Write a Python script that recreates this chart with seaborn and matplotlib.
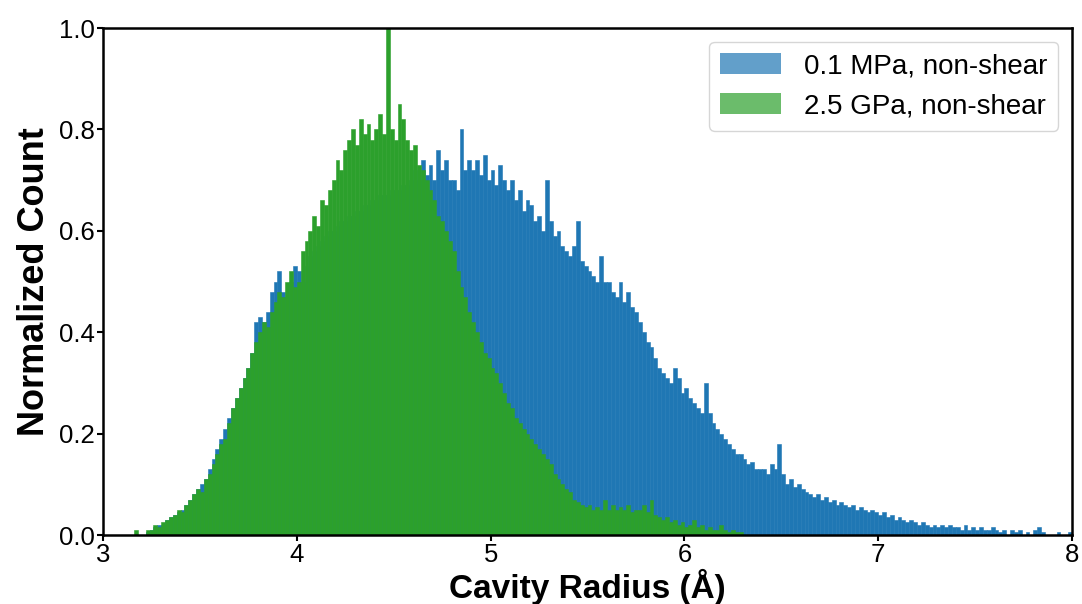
import numpy as np
import pandas as pd
import matplotlib
matplotlib.use("Agg")
import matplotlib.pyplot as plt
from matplotlib.patches import Patch
import seaborn as sns

# Histogram bin layout (Å)
BIN_WIDTH = 0.02
low_p_start = 3.20
high_p_start = 3.16

# Normalized counts per bin, 0.1 MPa non-shear (3.20 -> 8.00 Å)
low_p_counts = [
    0.0, 0.005, 0.01, 0.015, 0.02,
    0.02, 0.03, 0.035, 0.04, 0.045,
    0.05, 0.06, 0.07, 0.08, 0.09,
    0.10, 0.11, 0.13, 0.15, 0.17,
    0.19, 0.21, 0.23, 0.25, 0.27,
    0.29, 0.31, 0.33, 0.36, 0.42,
    0.43, 0.42, 0.44, 0.48, 0.50,
    0.52, 0.48, 0.47, 0.50, 0.53,
    0.52, 0.50, 0.53, 0.55, 0.56,
    0.57, 0.58, 0.59, 0.60, 0.60,
    0.61, 0.62, 0.62, 0.63, 0.63,
    0.64, 0.64, 0.65, 0.65, 0.66,
    0.66, 0.67, 0.67, 0.67, 0.68,
    0.68, 0.68, 0.69, 0.69, 0.70,
    0.72, 0.70, 0.74, 0.71, 0.73,
    0.70, 0.76, 0.72, 0.74, 0.70,
    0.70, 0.68, 0.80, 0.72, 0.74,
    0.72, 0.74, 0.71, 0.75, 0.70,
    0.72, 0.69, 0.73, 0.70, 0.68,
    0.70, 0.66, 0.68, 0.64, 0.66,
    0.65, 0.62, 0.63, 0.60, 0.70,
    0.62, 0.59, 0.60, 0.57, 0.56,
    0.55, 0.57, 0.62, 0.54, 0.53,
    0.52, 0.51, 0.50, 0.55, 0.50,
    0.50, 0.48, 0.47, 0.50, 0.46,
    0.48, 0.45, 0.44, 0.42, 0.40,
    0.38, 0.37, 0.35, 0.33, 0.32,
    0.31, 0.30, 0.33, 0.31, 0.28,
    0.29, 0.27, 0.26, 0.25, 0.24,
    0.30, 0.24, 0.22, 0.21, 0.20,
    0.19, 0.18, 0.17, 0.16, 0.16,
    0.15, 0.14, 0.145, 0.13, 0.13,
    0.13, 0.12, 0.14, 0.13, 0.18,
    0.12, 0.10, 0.11, 0.095, 0.10,
    0.09, 0.085, 0.08, 0.075, 0.08,
    0.07, 0.075, 0.065, 0.07, 0.06,
    0.065, 0.06, 0.055, 0.06, 0.05,
    0.055, 0.05, 0.045, 0.05, 0.045,
    0.04, 0.045, 0.035, 0.04, 0.03,
    0.035, 0.03, 0.025, 0.03, 0.025,
    0.02, 0.025, 0.02, 0.015, 0.02,
    0.015, 0.02, 0.015, 0.02, 0.015,
    0.015, 0.01, 0.02, 0.01, 0.015,
    0.01, 0.015, 0.01, 0.01, 0.015,
    0.01, 0.005, 0.01, 0.0, 0.01,
    0.005, 0.01, 0.0, 0.005, 0.0,
    0.01, 0.015, 0.005, 0.0, 0.0,
    0.0, 0.005, 0.0, 0.0, 0.005,
]

# Normalized counts per bin, 2.5 GPa non-shear (3.16 -> 6.30 Å)
high_p_counts = [
    0.01, 0.0, 0.0, 0.01, 0.01,
    0.02, 0.015, 0.025, 0.03, 0.035,
    0.04, 0.05, 0.045, 0.06, 0.07,
    0.08, 0.09, 0.085, 0.11, 0.12,
    0.14, 0.16, 0.18, 0.19, 0.22,
    0.25, 0.27, 0.29, 0.31, 0.33,
    0.36, 0.38, 0.40, 0.42, 0.41,
    0.44, 0.46, 0.48, 0.47, 0.50,
    0.52, 0.49, 0.50, 0.56, 0.58,
    0.60, 0.63, 0.61, 0.66, 0.65,
    0.68, 0.70, 0.74, 0.72, 0.76,
    0.78, 0.80, 0.77, 0.82, 0.79,
    0.81, 0.78, 0.80, 0.83, 0.79,
    1.00, 0.80, 0.78, 0.85, 0.82,
    0.78, 0.76, 0.77, 0.73, 0.72,
    0.70, 0.68, 0.66, 0.63, 0.62,
    0.60, 0.58, 0.56, 0.52, 0.49,
    0.47, 0.44, 0.42, 0.40, 0.38,
    0.36, 0.35, 0.33, 0.32, 0.30,
    0.28, 0.26, 0.25, 0.23, 0.22,
    0.21, 0.20, 0.19, 0.18, 0.17,
    0.16, 0.15, 0.14, 0.12, 0.11,
    0.10, 0.09, 0.085, 0.07, 0.065,
    0.06, 0.055, 0.06, 0.05, 0.055,
    0.05, 0.07, 0.05, 0.06, 0.05,
    0.055, 0.05, 0.06, 0.045, 0.05,
    0.05, 0.06, 0.045, 0.07, 0.04,
    0.035, 0.03, 0.035, 0.025, 0.03,
    0.02, 0.025, 0.015, 0.02, 0.03,
    0.015, 0.02, 0.01, 0.015, 0.01,
    0.01, 0.02, 0.01, 0.005, 0.01,
    0.005, 0.005,
]

series_labels = ["0.1 MPa, non-shear", "2.5 GPa, non-shear"]
series_colors = ["#1f77b4", "#2ca02c"]
x_ticks = [3, 4, 5, 6, 7, 8]
y_ticks = [0.0, 0.2, 0.4, 0.6, 0.8, 1.0]


def bin_edges(start, n):
    return start + BIN_WIDTH * np.arange(n + 1)


sns.set_style("white")
plt.rcParams["font.family"] = ["Liberation Sans", "DejaVu Sans"]
plt.rcParams["text.color"] = "black"
plt.rcParams["axes.labelcolor"] = "black"

fig = plt.figure(figsize=(10.82, 6.04), dpi=100)
ax = fig.add_axes([0.0952, 0.1142, 0.8956, 0.8394])

for start, counts, color in [
    (low_p_start, low_p_counts, series_colors[0]),
    (high_p_start, high_p_counts, series_colors[1]),
]:
    edges = bin_edges(start, len(counts))
    frame = pd.DataFrame({
        "radius": (edges[:-1] + edges[1:]) / 2,
        "count": np.asarray(counts, dtype=float),
    })
    sns.histplot(
        data=frame, x="radius", weights="count", bins=edges.tolist(), ax=ax,
        color=color, alpha=1.0, edgecolor=color, linewidth=0.4,
        element="bars", fill=True,
    )

ax.set_xlim(3, 8)
ax.set_ylim(0, 1.0)
ax.set_xticks(x_ticks)
ax.set_yticks(y_ticks)
ax.set_yticklabels([f"{v:.1f}" for v in y_ticks])
ax.tick_params(axis="both", direction="out", length=4, width=1.5, pad=2,
               labelsize=18.5, colors="black", bottom=True, left=True)
for spine in ax.spines.values():
    spine.set_visible(True)
    spine.set_color("black")
    spine.set_linewidth(1.8)

ax.set_xlabel("Cavity Radius (Å)", fontsize=24, fontweight="bold", color="black")
ax.xaxis.set_label_coords(0.5, -0.066)
ax.set_ylabel("Normalized Count", fontsize=26, fontweight="bold", color="black",
              labelpad=5)

handles = [Patch(facecolor=c, alpha=0.7, edgecolor="none") for c in series_colors]
leg = ax.legend(handles, series_labels, loc="upper right", fontsize=20,
                handlelength=2.2, handleheight=0.8, frameon=True,
                edgecolor="#cccccc", fancybox=True, borderpad=0.4,
                labelspacing=0.5, handletextpad=0.8)
for txt in leg.get_texts():
    txt.set_color("black")

fig.savefig("out.png", dpi=100)
